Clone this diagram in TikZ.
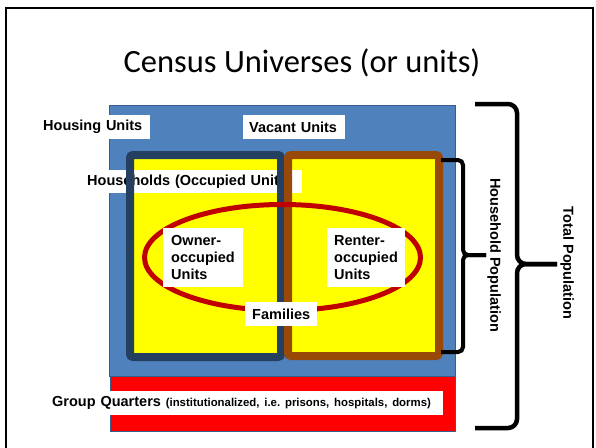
\documentclass[tikz,border=0pt]{standalone}
\usepackage{fontspec}
\setmainfont{Liberation Sans}
\newfontfamily\titlefont{Carlito}
\definecolor{cblue}{HTML}{4F81BD}
\definecolor{cblueline}{HTML}{385D8A}
\definecolor{cnavy}{HTML}{243F60}
\definecolor{cbrown}{HTML}{984807}
\definecolor{cyellow}{HTML}{FFFF00}
\definecolor{cdarkred}{HTML}{C00000}
\definecolor{cred}{HTML}{FF0000}
\tikzset{
  lbl/.style={fill=white, inner ysep=0pt, align=left, anchor=north west, font=\bfseries\fontsize{14.5}{17}\selectfont\frenchspacing},
  bracestyle/.style={draw=black, line width=4.5pt, rounded corners=9pt},
  vtext/.style={font=\bfseries\fontsize{14.5}{17}\selectfont, rotate=-90, anchor=center}
}
\begin{document}
\begin{tikzpicture}[x=1pt,y=-1pt]
\useasboundingbox (0,0) rectangle (596,447);
\clip (0,0) rectangle (596,447);
% frame
\draw[line width=2pt] (6,8) rectangle (593,470);
% title
\node (title) at (302,63) {\titlefont\fontsize{32.5}{36}\selectfont Census Universes (or units)};
% housing units (blue)
\draw[fill=cblue, draw=cblueline, line width=1pt] (109,105) rectangle (455,376);
% group quarters (red)
\draw[fill=cred, draw=cblueline, line width=1pt] (110,376) rectangle (455,431);
% labels on blue
\node[lbl, minimum height=24pt, text width=100pt, inner xsep=7pt] (hu) at (36,115) {Housing Units};
\node[lbl, minimum height=24pt, text width=90pt, inner xsep=6pt] (vu) at (243,115) {Vacant Units};
% yellow fills
\fill[cyellow] (130,155) rectangle (281,357);
\fill[cyellow] (288,155) rectangle (439,356);
% households label
\node[lbl, minimum height=23pt, text width=213pt, inner xsep=2pt] (hh) at (85,170) {Households (Occupied Units)};
% box borders
\draw[cnavy, line width=8pt, rounded corners=3pt] (130,155) rectangle (281,357);
\draw[cbrown, line width=8pt, rounded corners=3pt] (288,155) rectangle (439,356);
% families ellipse
\draw[cdarkred, line width=5pt] (282.5,257.5) ellipse [x radius=138, y radius=53];
% owner / renter / families
\node[lbl, minimum height=59pt, text width=64pt, inner xsep=8pt, inner ysep=4pt] (own) at (163,228) {Owner-\\occupied\\Units};
\node[lbl, minimum height=59pt, text width=64pt, inner xsep=7pt, inner ysep=4pt] (rent) at (327,228) {Renter-\\occupied\\Units};
\node[lbl, minimum height=24pt, minimum width=72pt, align=center, inner xsep=0pt] (fam) at (245,302) {Families};
% group quarters label
\node[lbl, minimum height=24pt, text width=384pt, inner xsep=7pt] (gq) at (45,391) {Group Quarters {\fontsize{11.4}{13}\selectfont (institutionalized, i.e. prisons, hospitals, dorms)}};
% braces
\coordinate (hbT) at (441,160);
\coordinate (hbB) at (441,352);
\coordinate (hbM) at (486,255);
\draw[bracestyle, line width=4pt, rounded corners=5pt] (hbT) -- (463,160) -- (463,255) -- (hbM);
\draw[bracestyle, line width=4pt, rounded corners=5pt] (hbB) -- (463,352) -- (463,255) -- (hbM);
\coordinate (tbT) at (475,104);
\coordinate (tbB) at (475,428);
\coordinate (tbM) at (557,264);
\draw[bracestyle] (tbT) -- (517,104) -- (517,264) -- (tbM);
\draw[bracestyle] (tbB) -- (517,428) -- (517,264) -- (tbM);
% rotated labels
\node[vtext] (hp) at (494,255) {Household Population};
\node[vtext] (tp) at (567,263) {Total Population};
\end{tikzpicture}
\end{document}
